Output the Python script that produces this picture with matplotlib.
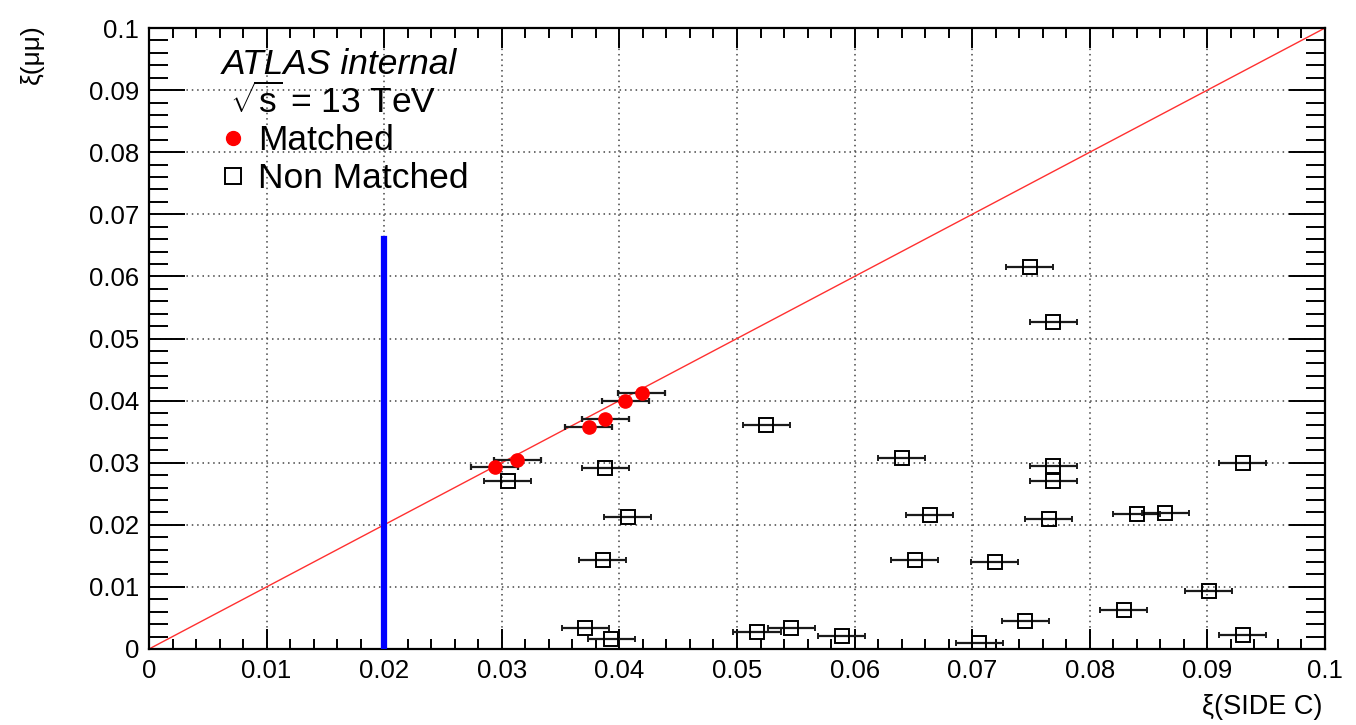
import numpy as np
import matplotlib.pyplot as plt
from matplotlib.lines import Line2D
from matplotlib.ticker import MultipleLocator, FormatStrFormatter

plt.rcParams['font.family'] = ['Liberation Sans', 'DejaVu Sans']
plt.rcParams['mathtext.fontset'] = 'custom'
plt.rcParams['mathtext.rm'] = 'Liberation Sans'
plt.rcParams['mathtext.it'] = 'Liberation Sans:italic'

# ── matched candidates ───────────────────────────────────────────
match_x = [0.0294, 0.0313, 0.0374, 0.0388, 0.0405, 0.0419]
match_y = [0.0293, 0.0305, 0.0358, 0.0370, 0.0399, 0.0413]

# ── non matched candidates ───────────────────────────────────────
non_x = [0.0305, 0.0388, 0.0525, 0.0407, 0.0386, 0.0371, 0.0393, 0.0517,
         0.0546, 0.0589, 0.0749, 0.0769, 0.0640, 0.0769, 0.0769, 0.0930,
         0.0664, 0.0765, 0.0840, 0.0864, 0.0651, 0.0719, 0.0901, 0.0829,
         0.0745, 0.0706, 0.0930]
non_y = [0.0270, 0.0291, 0.0361, 0.0212, 0.0143, 0.0034, 0.0016, 0.0028,
         0.0034, 0.0021, 0.0615, 0.0526, 0.0307, 0.0294, 0.0271, 0.0299,
         0.0216, 0.0209, 0.0218, 0.0219, 0.0143, 0.0140, 0.0093, 0.0063,
         0.0045, 0.0010, 0.0022]

xerr = 0.002       # ξ(SIDE C) uncertainty
cut_x = 0.02       # acceptance edge
cut_top = 0.066

W, H = 1356, 725
fig = plt.figure(figsize=(W / 100, H / 100), dpi=100)
ax = fig.add_axes([149/W, 76/H, 1176/W, 621/H])

ax.plot([0, 0.1], [0, 0.1], color='#ff3030', lw=1.0, zorder=2)
ax.plot([cut_x, cut_x], [0, cut_top], color='#0000ff', lw=4.5, zorder=3)

ax.errorbar(non_x, non_y, xerr=xerr, fmt='s', ms=10.5, mfc='none', mec='black',
            mew=1.4, ecolor='#1a1a1a', elinewidth=1.6, capsize=2.4, capthick=1.6,
            zorder=4)
ax.errorbar(match_x, match_y, xerr=xerr, fmt='o', ms=9.5, mfc='red', mec='red',
            ecolor='#1a1a1a', elinewidth=1.6, capsize=2.4, capthick=1.6, zorder=5)

ax.set_xlim(0, 0.1)
ax.set_ylim(0, 0.1)
ax.xaxis.set_major_locator(MultipleLocator(0.01))
ax.xaxis.set_minor_locator(MultipleLocator(0.002))
ax.yaxis.set_major_locator(MultipleLocator(0.01))
ax.yaxis.set_minor_locator(MultipleLocator(0.002))
ax.xaxis.set_major_formatter(FormatStrFormatter('%g'))
ax.yaxis.set_major_formatter(FormatStrFormatter('%g'))

ax.grid(True, which='major', ls=(0, (1, 2.5)), color='#444444', lw=1.1)
ax.tick_params(axis='x', which='major', direction='in', length=14.5, width=1.4,
               top=True, labelsize=18.5, pad=7)
ax.tick_params(axis='x', which='minor', direction='in', length=7, width=1.4, top=True)
ax.tick_params(axis='y', which='major', direction='in', length=26, width=1.4,
               right=True, labelsize=18.5, pad=7)
ax.tick_params(axis='y', which='minor', direction='in', length=13.5, width=1.4, right=True)
for s in ax.spines.values():
    s.set_linewidth(1.6)

fig.text(1322/W, 1 - 714/H, 'ξ(SIDE C)', ha='right', va='baseline', fontsize=19.5)
fig.text(32/W, 1 - 24/H, 'ξ(μμ)', ha='center', va='top', rotation=90, fontsize=19)

fig.text(222/W, 1 - 74/H, 'ATLAS internal', style='italic', fontsize=25.5,
         va='baseline')
fig.text(230/W, 1 - 113/H, r'$\sqrt{\mathrm{s}}$ = 13 TeV', fontsize=25.5, va='baseline')

handles = [Line2D([], [], ls='none', marker='o', ms=10, mfc='red', mec='red'),
           Line2D([], [], ls='none', marker='s', ms=11, mfc='none', mec='black', mew=1.4)]
ax.legend(handles, ['Matched', 'Non Matched'], loc='upper left',
          bbox_to_anchor=(221/W, 1 - 124/H), bbox_transform=fig.transFigure,
          frameon=False, fontsize=25.5, handlelength=0.65, handletextpad=0.4,
          labelspacing=0.15, borderpad=0, borderaxespad=0)

fig.savefig('out.png', dpi=100, facecolor='white')
